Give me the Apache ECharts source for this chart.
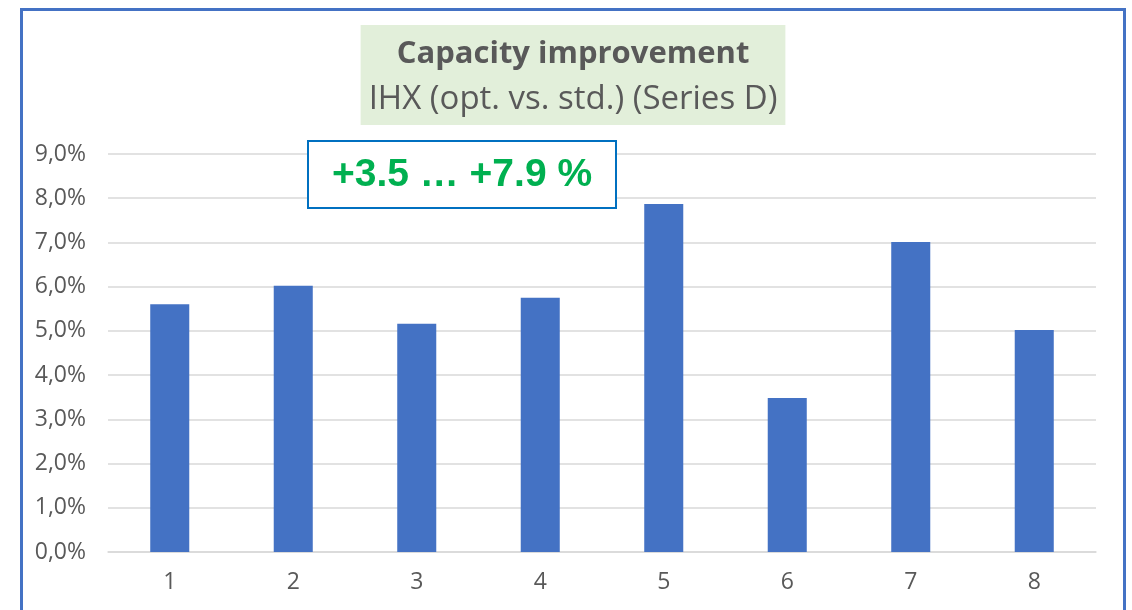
<!DOCTYPE html>
<html lang="en">
<head>
    <meta charset="UTF-8">
    <title>Capacity improvement</title>
    <script src="https://cdn.jsdelivr.net/npm/echarts@6/dist/echarts.min.js"></script>
    <style>
        html, body { margin: 0; padding: 0; background: #fff; }
        #main { width: 1132px; height: 610px; }
    </style>
</head>
<body>
    <div id="main"></div>
    <script>
        // data
        var categories = ['1', '2', '3', '4', '5', '6', '7', '8'];
        var improvement = [5.6, 6.02, 5.16, 5.75, 7.87, 3.48, 7.01, 5.02]; // %
        var yTicks = { min: 0, max: 9, step: 1 };
        var titleText = 'Capacity improvement';
        var subText = 'IHX (opt. vs. std.) (Series D)';
        var rangeNote = '+3.5 \u2026 +7.9 %';

        var chart = echarts.init(document.getElementById('main'));

        var option = {
            backgroundColor: '#fff',
            animation: false,
            title: {
                text: titleText,
                subtext: subText,
                left: 565,
                top: 25,
                textAlign: 'center',
                backgroundColor: '#e2efda',
                padding: [8, 8, 4, 8],
                itemGap: 4,
                textStyle: {
                    fontFamily: 'Open Sans',
                    fontWeight: 'bold',
                    fontSize: 31,
                    color: '#595959',
                    lineHeight: 42
                },
                subtextStyle: {
                    fontFamily: 'Open Sans',
                    fontSize: 33,
                    color: '#595959',
                    lineHeight: 42
                }
            },
            grid: {
                left: 108,
                right: 36,
                top: 154,
                bottom: 58
            },
            xAxis: {
                type: 'category',
                data: categories,
                axisTick: { show: false },
                axisLine: { lineStyle: { color: '#d9d9d9', width: 1.5 } },
                axisLabel: {
                    color: '#595959',
                    fontFamily: 'Open Sans',
                    fontSize: 23,
                    margin: 19
                }
            },
            yAxis: {
                type: 'value',
                min: yTicks.min,
                max: yTicks.max,
                interval: yTicks.step,
                axisLine: { show: false },
                axisTick: { show: false },
                splitLine: { lineStyle: { color: '#d9d9d9', width: 1.5 } },
                axisLabel: {
                    color: '#595959',
                    fontFamily: 'Open Sans',
                    fontSize: 23,
                    margin: 22,
                    formatter: function (v) {
                        return v.toFixed(1).replace('.', ',') + '%';
                    }
                }
            },
            series: [{
                type: 'bar',
                data: improvement,
                barWidth: '31.6%',
                itemStyle: { color: '#4472c4' }
            }],
            graphic: [
                {
                    // outer frame
                    type: 'rect',
                    shape: { x: 21.5, y: 9.5, width: 1103, height: 640 },
                    style: { fill: 'none', stroke: '#4472c4', lineWidth: 3 },
                    silent: true
                },
                {
                    type: 'rect',
                    shape: { x: 308, y: 141, width: 308, height: 67 },
                    style: { fill: '#fff', stroke: '#0070c0', lineWidth: 2 },
                    z: 10
                },
                {
                    type: 'text',
                    x: 462,
                    y: 175,
                    z: 11,
                    style: {
                        text: rangeNote,
                        fill: '#00b050',
                        font: 'bold 39px "Liberation Sans", Arial, sans-serif',
                        textAlign: 'center',
                        textVerticalAlign: 'middle'
                    }
                }
            ]
        };

        chart.setOption(option);
    </script>
</body>
</html>
